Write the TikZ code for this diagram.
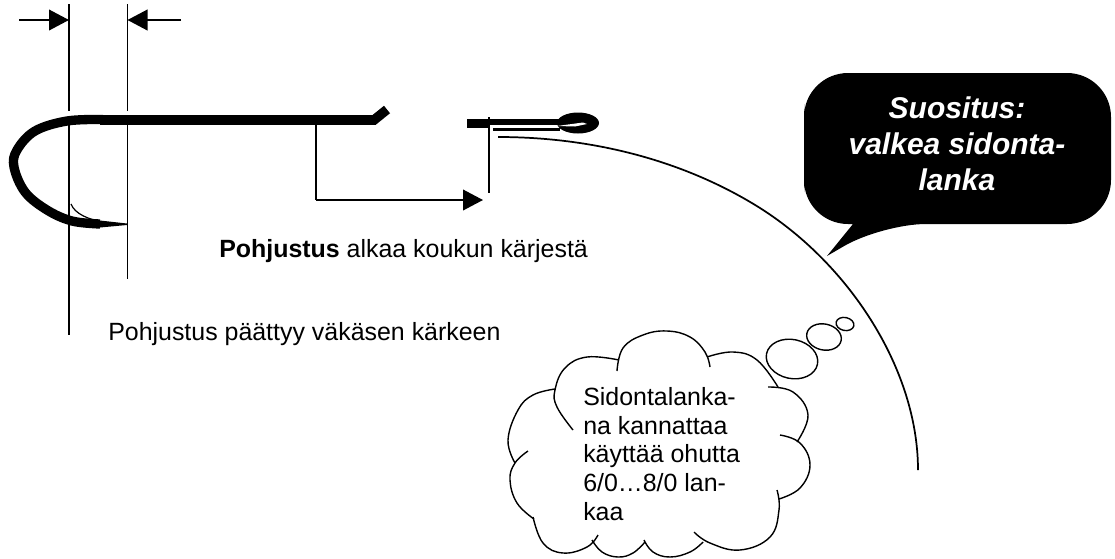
\documentclass[tikz,border=0pt]{standalone}
\usepackage{fontspec}
\setmainfont{Liberation Sans}
\usetikzlibrary{arrows.meta}
\tikzset{
	thinline/.style={line width=1.3pt},
	hookline/.style={line width=7pt},
	dimarrow/.style={thinline,-{Triangle[length=15pt,width=15.5pt]}},
	cloudline/.style={line width=1.05pt},
	plaintext/.style={font=\fontsize{18.7}{21.6}\selectfont,inner sep=0pt},
	adviceb/.style={font=\fontsize{22.5}{27}\selectfont\bfseries\itshape,text=white,align=center,inner sep=0pt}
}
\newcommand{\lobe}[1]{\draw[cloudline] plot[smooth,tension=0.7] coordinates {#1};}

\begin{document}
\begin{tikzpicture}[x=0.75pt,y=-0.75pt]
	\useasboundingbox (0,0) rectangle (1115,558);
	% dimension lines
	\coordinate (dimLa) at (69,4);
	\coordinate (dimLb) at (69,111);
	\coordinate (dimLc) at (69,125);
	\coordinate (dimLd) at (69,335);
	\coordinate (dimRa) at (127.5,4);
	\coordinate (dimRb) at (127.5,111);
	\coordinate (dimRc) at (127.5,120);
	\coordinate (dimRd) at (127.5,279);
	\draw[thinline] (dimLa) -- (dimLb) (dimLc) -- (dimLd);
	\draw[thinline] (dimRa) -- (dimRb) (dimRc) -- (dimRd);
	\coordinate (arrowLs) at (19,20);
	\coordinate (arrowRs) at (181,20);
	\draw[dimarrow] (arrowLs) -- (dimLa |- arrowLs);
	\draw[dimarrow] (arrowRs) -- (dimRa |- arrowRs);
	% hook
	\draw[hookline] plot[smooth,tension=0.6] coordinates {(103,119.5) (67,121) (35,131) (17,150) (14,167) (25,192) (47,210) (72,221) (100,224)};
	\draw[line width=7.2pt,miter limit=4] (100,120) -- (374,120) -- (387,109.5);
	\fill (100,220.5) -- (127,223.5) -- (127,225) -- (100,227.5) -- cycle;
	\draw[line width=0.9pt] (71,204) .. controls (75,214) and (88,219) .. (102,222);
	% eye
	\fill (467,119) rectangle (490,128);
	\fill (490,119) rectangle (560,125);
	\fill (493,128) rectangle (560,131);
	\fill (578,123) ellipse [x radius=21,y radius=10.5];
	\fill[white] (557,126) -- (583,122.5) -- (587,124) -- (575,126.5) -- cycle;
	% shank to eye
	\coordinate (startA) at (316,124);
	\coordinate (startB) at (316,200);
	\coordinate (startC) at (483,200);
	\draw[thinline] (startA) -- (startB);
	\draw[dimarrow] (startB) -- (startC);
	\draw[thinline] (489,117) -- (489,193);
	% thread
	\draw[thinline] (498,137) .. controls (600,137) and (690,164) .. (760,208) .. controls (850,265) and (918,370) .. (918,470);
	% advice balloon
	\fill[rounded corners=33pt] (804,148) -- (804,73) -- (1111,73) -- (1111,224) -- (882,224) [sharp corners] -- (827,256) -- (853,224) [rounded corners=33pt] -- (804,224) -- cycle;
	\node[adviceb] (advice) at (957,144) {Suositus:\\valkea sidonta-\\lanka};
	% thought cloud
	\lobe{(573,430) (557,407) (555,390) (565,368) (587,357) (619,360)}
	\lobe{(617,371) (623,348) (643,335) (667,331) (690,337) (705,352) (710,367)}
	\lobe{(707,357) (733,352) (757,360) (778,387)}
	\lobe{(768,387) (793,392) (808,415) (797,442)}
	\lobe{(780,435) (800,443) (810,465) (800,488) (779,499)}
	\lobe{(777,490) (779,510) (770,537) (740,550) (710,543) (694,532)}
	\lobe{(703,542) (690,552) (670,557) (653,552) (644,540)}
	\lobe{(645,542) (633,553) (618,557) (602,552) (592,540)}
	\lobe{(598,535) (587,547) (563,553) (543,543) (533,517)}
	\lobe{(534,519) (517,503) (510,480) (515,463) (528,451)}
	\lobe{(515,463) (508,440) (518,410) (533,395) (555,389)}
	\draw[cloudline,rotate around={-12:(792,359)}] (792,359) ellipse [x radius=26,y radius=19.5];
	\draw[cloudline,rotate around={-12:(824,337)}] (824,337) ellipse [x radius=17.5,y radius=13];
	\draw[cloudline,rotate around={-12:(845,324)}] (845,324) ellipse [x radius=9,y radius=6.5];
	% labels
	\node[plaintext,anchor=west] (startlabel) at (219,251) {\textbf{Pohjustus} alkaa koukun kärjestä};
	\node[plaintext,anchor=west] (endlabel) at (108,334) {Pohjustus päättyy väkäsen kärkeen};
	\node[plaintext,anchor=north west,align=left] (cloudtext) at (583,387) {Sidontalanka-\\na kannattaa\\käyttää ohutta\\6/0…8/0 lan-\\kaa};
\end{tikzpicture}
\end{document}
